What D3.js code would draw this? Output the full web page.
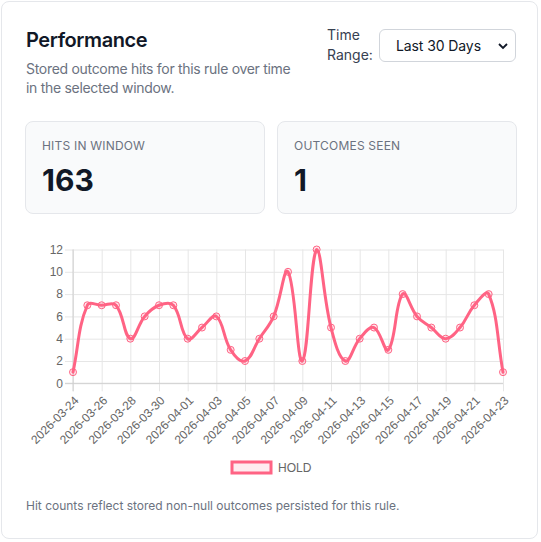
<!DOCTYPE html>
<html>
<head>
<meta charset="utf-8">
<script src="https://cdn.jsdelivr.net/npm/d3@7"></script>
<style>
  html, body { margin: 0; padding: 0; background: #fff; width: 541px; height: 542px; overflow: hidden; }
  body { position: relative; font-family: Inter, "Noto Sans", sans-serif; }
  .card { position: absolute; left: 1px; top: 1px; width: 537px; height: 538px; border: 1px solid #e5e7eb; border-radius: 8px; box-sizing: border-box; background: #fff; }
  .abs { position: absolute; white-space: nowrap; }
  .title { left: 26px; top: 26px; font-size: 20px; font-weight: 600; color: #111827; line-height: 28px; letter-spacing: -0.4px; }
  .sub { left: 26px; top: 59px; font-size: 14px; color: #6b7280; line-height: 19px; white-space: normal; width: 272px; letter-spacing: -0.3px; }
  .tr { left: 327px; top: 25px; font-size: 14px; color: #374151; line-height: 20px; }
  .sel { left: 379px; top: 29px; width: 137px; height: 33px; border: 1px solid #d1d5db; border-radius: 6px; box-sizing: border-box; font-size: 14px; color: #111827; }
  .sel span { position: absolute; left: 16px; top: 7px; line-height: 18px; letter-spacing: -0.1px; }
  .sel svg { position: absolute; right: 6px; top: 11px; }
  .stat { top: 121px; width: 240px; height: 93px; background: #f9fafb; border: 1px solid #e5e7eb; border-radius: 8px; box-sizing: border-box; }
  .stat .lbl { position: absolute; left: 16px; top: 16px; font-size: 12px; color: #6b7280; letter-spacing: 0.2px; line-height: 16px; }
  .stat .val { position: absolute; left: 16px; top: 40px; font-size: 30px; font-weight: 700; color: #111827; line-height: 36px; }
  .foot { left: 26px; top: 498px; font-size: 12px; color: #6b7280; line-height: 16px; }
  svg#chart { position: absolute; left: 0; top: 0; }
</style>
</head>
<body>
<div class="card"></div>
<div class="abs title">Performance</div>
<div class="abs sub">Stored outcome hits for this rule over time in the selected window.</div>
<div class="abs tr">Time<br>Range:</div>
<div class="abs sel"><span>Last 30 Days</span><svg width="12" height="10" viewBox="0 0 12 10"><path d="M2 3 L6 7 L10 3" fill="none" stroke="#111827" stroke-width="1.8"/></svg></div>
<div class="abs stat" style="left:25px"><div class="lbl">HITS IN WINDOW</div><div class="val">163</div></div>
<div class="abs stat" style="left:277px"><div class="lbl">OUTCOMES SEEN</div><div class="val">1</div></div>
<div class="abs foot">Hit counts reflect stored non-null outcomes persisted for this rule.</div>
<svg id="chart" width="541" height="542"></svg>
<script>
const dates = ["2026-03-24","2026-03-25","2026-03-26","2026-03-27","2026-03-28","2026-03-29","2026-03-30","2026-03-31",
  "2026-04-01","2026-04-02","2026-04-03","2026-04-04","2026-04-05","2026-04-06","2026-04-07","2026-04-08",
  "2026-04-09","2026-04-10","2026-04-11","2026-04-12","2026-04-13","2026-04-14","2026-04-15","2026-04-16",
  "2026-04-17","2026-04-18","2026-04-19","2026-04-20","2026-04-21","2026-04-22","2026-04-23"];
const holdValues = [1,7,7,7,4,6,7,7,4,5,6,3,2,4,6,10,2,12,5,2,4,5,3,8,6,5,4,5,7,8,1];
const yTicks = [0,2,4,6,8,10,12];
const xTickLabels = dates.filter((d,i) => i % 2 === 0);
const seriesName = "HOLD";

(function () {
const L = 73, R = 503, T = 249.5, B = 383.3;
const lineColor = "rgb(255,99,132)";
const fillColor = "rgba(255,99,132,0.15)";
const chartFont = "'Liberation Sans', Arial, sans-serif";

const svg = d3.select("#chart");
const x = d3.scalePoint().domain(dates).range([L, R]);
const y = d3.scaleLinear().domain([0, 12]).range([B, T]);

const gy = svg.append("g").attr("transform", `translate(${L - 8},0)`)
  .call(d3.axisLeft(y).tickValues(yTicks).tickSize(-(R - L + 8)).tickPadding(2));
gy.select(".domain").remove();
gy.selectAll("line").attr("stroke", "#e6e6e6").attr("stroke-width", 1);
gy.selectAll("text").attr("fill", "#666").style("font-family", chartFont).style("font-size", "12px");

const gx = svg.append("g").attr("transform", `translate(0,${B + 8})`)
  .call(d3.axisBottom(x).tickValues(xTickLabels).tickSize(-(B + 8 - T)));
gx.select(".domain").remove();
gx.selectAll("line").attr("stroke", "#e6e6e6").attr("stroke-width", 1);
gx.selectAll("text").attr("fill", "#666").style("font-family", chartFont).style("font-size", "12px")
  .attr("text-anchor", "end").attr("x", 0).attr("y", 0).attr("dy", "0.35em")
  .attr("transform", "translate(3,7) rotate(-45)");

svg.append("line").attr("x1", L).attr("x2", L).attr("y1", T).attr("y2", B + 8).attr("stroke", "#cfcfcf");
svg.append("line").attr("x1", L - 8).attr("x2", R).attr("y1", B).attr("y2", B).attr("stroke", "#cfcfcf");

const pts = dates.map((d, i) => [x(d), y(holdValues[i])]);
const t = 0.4;
const cap = q => [Math.max(L, Math.min(R, q[0])), Math.max(T, Math.min(B, q[1]))];
const cps = pts.map((p, i) => {
  const prev = pts[i - 1] || p, next = pts[i + 1] || p;
  const d01 = Math.hypot(p[0] - prev[0], p[1] - prev[1]);
  const d12 = Math.hypot(next[0] - p[0], next[1] - p[1]);
  let s01 = d01 / (d01 + d12), s12 = d12 / (d01 + d12);
  if (isNaN(s01)) s01 = 0; if (isNaN(s12)) s12 = 0;
  const fa = t * s01, fb = t * s12;
  return {
    a: cap([p[0] - fa * (next[0] - prev[0]), p[1] - fa * (next[1] - prev[1])]),
    b: cap([p[0] + fb * (next[0] - prev[0]), p[1] + fb * (next[1] - prev[1])])
  };
});
const path = d3.path();
path.moveTo(pts[0][0], pts[0][1]);
for (let i = 1; i < pts.length; i++) {
  path.bezierCurveTo(cps[i - 1].b[0], cps[i - 1].b[1], cps[i].a[0], cps[i].a[1], pts[i][0], pts[i][1]);
}
svg.append("path").attr("d", path.toString()).attr("fill", "none").attr("stroke", lineColor)
  .attr("stroke-width", 3).attr("stroke-linejoin", "round").attr("stroke-linecap", "round");

svg.append("g").selectAll("circle").data(dates).join("circle")
  .attr("cx", d => x(d)).attr("cy", (d, i) => y(holdValues[i])).attr("r", 3.5)
  .attr("fill", fillColor).attr("stroke", lineColor).attr("stroke-width", 1);

const lg = svg.append("g");
lg.append("rect").attr("x", 232).attr("y", 462).attr("width", 39).attr("height", 11)
  .attr("fill", "rgba(255,99,132,0.12)").attr("stroke", lineColor).attr("stroke-width", 3);
lg.append("text").attr("x", 278).attr("y", 467.5).attr("dy", "0.35em").attr("fill", "#666")
  .style("font-family", chartFont).style("font-size", "12px").text(seriesName);
})();
</script>
</body>
</html>
